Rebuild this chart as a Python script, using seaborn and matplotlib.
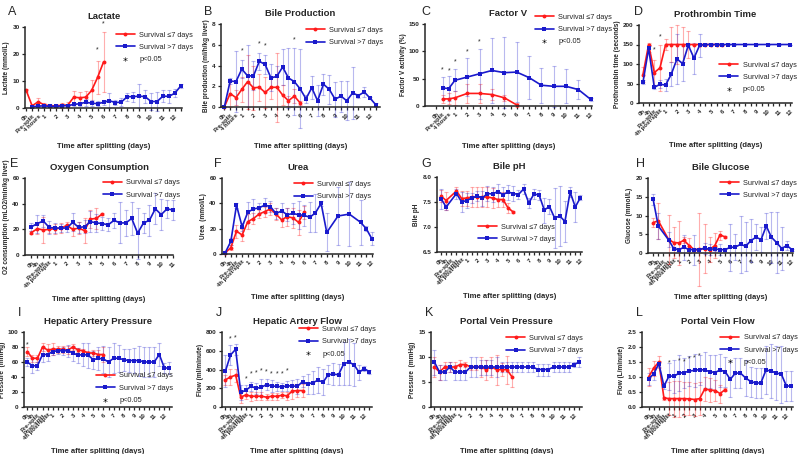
import matplotlib
matplotlib.use("Agg")
import matplotlib.pyplot as plt
from matplotlib.lines import Line2D
import seaborn as sns

sns.set_style("ticks")
plt.rcParams["font.family"] = ["Liberation Sans", "DejaVu Sans"]

RED = "#ff1a1a"
BLUE = "#1a1acc"

DAYS = ["1", "2", "3", "4", "5", "6", "7", "8", "9", "10", "11", "12"]
PRE3 = ["0h", "Pre-split", "4 hours"]
PRE4 = ["0h", "4h", "Pre-split", "4h post-split"]
PRE5 = ["0h", "4h", "Pre-split", "Post-split", "4h post-split"]

# A - Lactate
lac_red_x = list(range(14))
lac_red = [6.5, 0.8, 2.3, 1.2, 0.8, 0.8, 1.0, 1.1, 4.0, 3.8, 4.0, 6.5, 11.3, 17.0]
lac_red_err = [0.5, 0.5, 1.5, 0.8, 0.5, 0.5, 1.0, 1.0, 2.2, 2.3, 2.2, 4.0, 6.0, 11.0]
lac_blue_x = list(range(1, 27))
lac_blue = [0.4, 0.7, 0.8, 0.6, 0.6, 0.8, 0.9, 1.3, 1.6, 2.1, 1.8, 1.6, 2.1, 2.7, 2.0, 2.2,
            4.2, 4.2, 4.4, 4.2, 2.4, 2.4, 4.4, 4.3, 5.5, 8.2]
lac_blue_err = [0.3, 0.3, 0.3, 0.3, 0.3, 0.3, 0.3, 0.5, 0.8, 1.2, 1.0, 1.0, 1.0, 2.8, 0.8, 1.5,
                1.5, 1.8, 4.5, 2.5, 3.0, 3.5, 2.2, 2.5, 1.5, 0.7]
lac_star_x = [12, 13]
lac_star_y = [21.4, 31]

# B - Bile production
bile_red_x = list(range(14))
bile_red = [0, 1.3, 0.9, 1.7, 2.45, 1.85, 1.9, 1.4, 1.9, 1.9, 1.15, 0.6, 1.05, 0.4]
bile_red_err = [0, 1.3, 0.7, 1.2, 2.6, 2.1, 1.3, 1.5, 1.1, 3.3, 1.0, 0.5, 0.7, 0.2]
bile_blue_x = list(range(27))
bile_blue = [0, 2.5, 2.45, 3.65, 3.0, 3.0, 4.4, 4.1, 2.8, 2.95, 3.85, 2.8, 2.45, 1.75, 0.8, 1.85,
             0.6, 2.2, 1.7, 0.75, 1.05, 0.6, 1.35, 1.1, 1.45, 0.85, 0.2]
bile_blue_err = [0, 0.3, 2.9, 0.9, 3.0, 1.4, 0.8, 0.9, 1.3, 1.0, 1.7, 2.9, 3.2, 3.8, 0.4, 1.1,
                 1.5, 1.0, 1.4, 1.7, 1.5, 1.9, 2.5, 0.2, 0.5, 0.1, 0.2]
bile_star_x = [3, 6, 7, 12]
bile_star_y = [5.4, 6.1, 5.9, 6.5]

# C - Factor V
fv_red_x = [1, 2, 3, 5, 7, 9, 11, 13]
fv_red = [13, 13, 15, 23, 23, 21, 15, 2]
fv_red_err = [7, 10, 13, 18, 18, 10, 5, 3]
fv_blue_x = [1, 2, 3, 5, 7, 9, 11, 13, 15, 17, 19, 21, 23, 25]
fv_blue = [33, 32, 47, 53, 59, 65, 61, 62, 52, 38, 36, 36, 30, 12]
fv_blue_err = [20, 22, 20, 35, 46, 60, 65, 55, 40, 32, 37, 31, 17, 2]
fv_star_x = [1, 2, 3, 5, 7]
fv_star_y = [66, 65, 80, 99, 117]

# D - Prothrombin time
pt_red_x = list(range(15))
pt_red = [73, 150, 78, 90, 150, 150, 150, 150, 150, 150, 150, 150, 150, 150, 150]
pt_red_err = [20, 5, 32, 60, 15, 45, 50, 45, 35, 0, 0, 0, 0, 0, 0]
pt_blue_x = [0, 1, 2, 3, 4, 5, 6, 7, 8, 9, 10, 11, 12, 13, 14, 15, 16, 18, 20, 22, 24, 26]
pt_blue = [53, 140, 40, 48, 46, 74, 113, 101, 148, 115, 148, 150, 150, 150, 150, 150, 150,
           150, 150, 150, 150, 150]
pt_blue_err = [5, 10, 5, 10, 15, 30, 65, 45, 5, 40, 30, 0, 0, 0, 0, 0, 0, 0, 0, 0, 0, 0]
pt_star_x = [2, 3]
pt_star_y = [136, 170]

# E - Oxygen consumption
o2_red_x = list(range(13))
o2_red = [17.5, 20.5, 19.5, 20, 20.5, 21, 23, 20, 21, 19, 28, 28.5, 32]
o2_red_err = [1.5, 4, 10, 3, 4, 4, 3, 5, 5, 10, 7, 8, 1]
o2_blue_x = list(range(25))
o2_blue = [22, 24.5, 26.5, 21.5, 21, 21, 21, 25.5, 21.5, 22, 26, 25, 24.5, 23.5, 27, 25, 25,
           28.5, 17, 25, 27, 36, 31.5, 36, 35]
o2_blue_err = [3, 7, 5, 5, 4, 3, 3, 7, 4, 5, 8, 7, 5, 5, 6, 16, 10, 13, 20, 8, 12, 12, 12, 7, 8]

# F - Urea
urea_red_x = list(range(15))
urea_red = [1, 5, 18, 15, 25.5, 28, 31.5, 33.5, 35.5, 31.5, 27, 29.5, 28.5, 25, 33]
urea_red_err = [1, 2, 5, 5, 6, 4, 3, 4, 5, 5, 6, 7, 8, 10, 5]
urea_blue_x = [0, 1, 2, 3, 4, 5, 6, 7, 8, 9, 10, 11, 12, 13, 14, 15, 16, 17, 18, 20, 22, 24, 25, 26]
urea_blue = [1, 10, 38.5, 21.5, 33, 35.5, 36.5, 38.5, 37.5, 32, 34, 31, 32, 31, 30.5, 29, 32.5,
             40, 17, 30, 31.5, 25, 20, 12]
urea_blue_err = [1, 3, 2, 3, 8, 8, 4, 6, 4, 4, 6, 5, 8, 11, 8, 12, 15, 2, 15, 23, 25, 18, 2, 5]

# G - Bile pH
ph_red_x = [0, 1, 3, 4, 5, 6, 7, 8, 9, 10, 11, 12, 13, 14]
ph_red = [7.62, 7.53, 7.72, 7.57, 7.58, 7.6, 7.6, 7.6, 7.6, 7.58, 7.55, 7.55, 7.38, 7.3]
ph_red_err = [0.12, 0.18, 0.08, 0.15, 0.15, 0.2, 0.2, 0.2, 0.2, 0.2, 0.15, 0.15, 0.1, 0.02]
ph_blue_x = [0, 1, 3, 4, 5, 6, 7, 8, 9, 10, 11, 12, 13, 14, 15, 16, 17, 18, 19, 20, 21, 22, 23,
             24, 25, 26, 27]
ph_blue = [7.57, 7.4, 7.67, 7.5, 7.53, 7.58, 7.62, 7.58, 7.67, 7.66, 7.71, 7.65, 7.7, 7.67,
           7.65, 7.76, 7.48, 7.66, 7.64, 7.34, 7.41, 7.18, 7.22, 7.11, 7.7, 7.4, 7.59]
ph_blue_err = [0.2, 0.05, 0.1, 0.2, 0.15, 0.1, 0.1, 0.15, 0.15, 0.15, 0.15, 0.15, 0.15, 0.15,
               0.1, 0.1, 0.1, 0.1, 0.1, 0.25, 0.15, 0.6, 0.6, 0.4, 0.1, 0.3, 0.05]

# H - Bile glucose
glu_red_x = [0, 1, 3, 4, 5, 6, 7, 8, 9, 10, 11, 12, 13, 14]
glu_red = [8.1, 8.6, 3.6, 2.8, 2.7, 3.4, 2.0, 0.9, 1.0, 1.2, 0.9, 2.0, 4.8, 4.3]
glu_red_err = [1.2, 4.8, 6.6, 4.2, 5.8, 0.8, 2.0, 0.5, 9.8, 6.6, 3.4, 3.3, 1.2, 0.3]
glu_blue_x = [0, 1, 3, 4, 5, 6, 7, 8, 9, 10, 11, 12, 13, 14, 15, 16, 17, 18, 19, 20, 21, 22,
              23, 24, 25, 26, 27]
glu_blue = [14.3, 7.2, 3.5, 1.2, 0.9, 1.5, 0.9, 0.9, 0.9, 1.3, 1.0, 1.1, 0.9, 0.9, 1.5, 1.6,
            2.3, 1.8, 3.3, 4.2, 3.6, 7.2, 4.2, 2.8, 1.2, 2.0, 0.9]
glu_blue_err = [1.5, 3.5, 2, 0.5, 0.5, 3.3, 1, 4, 0.5, 1.5, 1.5, 0.5, 1.5, 0.5, 6.3, 3.5, 7.7,
                6.5, 5.8, 3.5, 3.3, 3.5, 6.8, 8.2, 5.8, 1.3, 0.3]

# I - Hepatic artery pressure
hap_red_x = list(range(16))
hap_red = [74, 65, 65, 80, 76, 77, 77, 77, 76, 80, 76, 75, 72, 72, 70, 70]
hap_red_err = [6, 5, 5, 5, 8, 8, 5, 5, 5, 4, 3, 3, 3, 4, 6, 10]
hap_blue_x = list(range(29))
hap_blue = [60, 55, 55, 70, 70, 74, 75, 75, 75, 72, 69, 70, 69, 63, 65, 64, 60, 65, 65, 63, 62,
            62, 62, 60, 60, 60, 70, 52, 52]
hap_blue_err = [5, 10, 5, 10, 8, 5, 4, 5, 8, 10, 10, 15, 17, 12, 15, 18, 20, 20, 18, 15, 15, 17,
                20, 20, 20, 20, 15, 7, 8]
hap_star_x = [0]
hap_star_y = [83]

# J - Hepatic artery flow
haf_red_x = list(range(16))
haf_red = [290, 320, 340, 105, 130, 115, 115, 115, 105, 115, 115, 125, 120, 170, 175, 175]
haf_red_err = [50, 90, 70, 60, 40, 50, 40, 40, 30, 35, 35, 30, 40, 80, 70, 70]
haf_blue_x = list(range(29))
haf_blue = [380, 555, 615, 155, 180, 220, 200, 210, 240, 225, 220, 215, 225, 225, 220, 270, 245,
            260, 285, 265, 345, 350, 345, 460, 480, 450, 370, 410, 375]
haf_blue_err = [170, 110, 60, 80, 60, 50, 60, 90, 60, 60, 50, 40, 50, 60, 80, 60, 110, 120, 140,
                140, 100, 120, 110, 230, 250, 230, 80, 30, 20]
haf_star_x = [1, 2, 4, 5, 6, 7, 8, 9, 10, 11, 12]
haf_star_y = [730, 740, 300, 355, 363, 384, 373, 348, 348, 348, 384]

# K - Portal vein pressure
pvp_red_x = list(range(16))
pvp_red = [8, 7, 8, 8, 8, 8.5, 8.5, 8, 8, 8, 7.5, 8, 7.5, 7.5, 7.5, 6]
pvp_red_err = [2, 1.5, 1, 1, 1, 1, 0.5, 0.5, 0.5, 2, 2, 2, 3, 1.3, 2.8, 2]
pvp_blue_x = list(range(29))
pvp_blue = [9, 7, 7, 8, 7, 7, 7, 8, 8, 8, 8, 8, 8, 8, 8, 8, 8, 8, 8, 8, 7.5, 7.5, 7.5, 8, 8, 8,
            8, 8.5, 9]
pvp_blue_err = [2.5, 1.5, 1.5, 1, 1.5, 1.5, 1.5, 2, 2, 1.5, 1.5, 1.5, 2, 1, 1, 1, 1, 1, 1, 1,
                1.2, 1.2, 1.2, 1, 1, 1, 1, 0.5, 1]

# L - Portal vein flow
pvf_red_x = list(range(16))
pvf_red = [1.0, 1.3, 1.5, 0.3, 0.28, 0.28, 0.28, 0.28, 0.27, 0.25, 0.28, 0.6, 0.57, 0.55, 0.45,
           0.58]
pvf_red_err = [0.3, 0.25, 0.2, 0.05, 0.55, 0.6, 0.6, 0.55, 0.55, 0.55, 0.55, 0.4, 0.4, 0.35,
               0.3, 0.05]
pvf_blue_x = list(range(29))
pvf_blue = [0.95, 1.1, 1.45, 0.7, 1.03, 1.03, 1.13, 1.15, 1.2, 1.22, 1.25, 1.23, 1.18, 1.15,
            1.23, 1.18, 0.92, 1.13, 1.13, 0.97, 0.85, 0.8, 0.8, 1.23, 1.2, 1.13, 1.1, 0.7, 0.7]
pvf_blue_err = [0.2, 0.2, 0.1, 0.1, 0.45, 0.55, 0.6, 0.5, 0.5, 0.55, 0.5, 0.6, 0.55, 0.6, 0.55,
                0.5, 0.6, 0.5, 0.5, 0.6, 0.5, 0.5, 0.5, 0.8, 0.9, 0.9, 0.95, 0.5, 0.5]
pvf_star_x = [4, 6, 7, 8, 9, 10]
pvf_star_y = [1.47, 1.55, 1.52, 1.6, 1.63, 1.69]

XLABEL = "Time after splitting (days)"

fig = plt.figure(figsize=(8, 4.54), dpi=100)


def rect(l, t, r, b):
    return [l / 800, 1 - b / 454, (r - l) / 800, (b - t) / 454]


def panel(box, letter, letter_xy, title, ylabel, ylim, yticks, pre, xlim,
          red, blue, stars=None, p_text=False, leg_loc="upper right", leg_anchor=(1.0, 1.0),
          xlab_y=-0.45):
    ax = fig.add_axes(rect(*box))
    rx, ry, re = red
    bx, by, be = blue
    ax.errorbar(rx, ry, yerr=re, fmt="none", ecolor=RED, alpha=0.35, elinewidth=0.8,
                capsize=1.5, capthick=0.8, clip_on=False)
    ax.errorbar(bx, by, yerr=be, fmt="none", ecolor=BLUE, alpha=0.3, elinewidth=0.8,
                capsize=1.5, capthick=0.8, clip_on=False)
    sns.lineplot(x=rx, y=ry, ax=ax, color=RED, marker="o", markersize=2.8, linewidth=1.2,
                 markeredgewidth=0, estimator=None, clip_on=False)
    sns.lineplot(x=bx, y=by, ax=ax, color=BLUE, marker="s", markersize=2.6, linewidth=1.2,
                 markeredgewidth=0, estimator=None, clip_on=False)
    if stars is not None:
        for sx, sy in zip(*stars):
            ax.text(sx, sy, "*", ha="center", va="center", fontsize=5)

    labels = list(pre)
    for d in DAYS:
        labels += [d, ""]
    n = int(xlim[1]) + 1
    labels = (labels + [""] * n)[:n]
    ax.set_xticks(range(n), labels, rotation=45, ha="right", rotation_mode="anchor",
                  fontsize=4.3, fontweight="bold")
    ax.set_xlim(*xlim)
    ax.set_ylim(*ylim)
    ax.set_yticks(yticks)
    plt.setp(ax.get_yticklabels(), fontsize=4.6, fontweight="bold")
    ax.tick_params(axis="both", length=2.5, width=0.9, pad=1.5)
    for s in ["left", "bottom"]:
        ax.spines[s].set_linewidth(1.1)
    sns.despine(ax=ax)

    ax.set_title(title, fontsize=6.8, fontweight="bold", pad=6)
    ax.set_ylabel(ylabel, fontsize=4.7, fontweight="bold", labelpad=1.5)
    ax.set_xlabel(XLABEL, fontsize=5.5, fontweight="bold")
    ax.xaxis.set_label_coords(0.5, xlab_y)
    fig.text(letter_xy[0] / 800, 1 - letter_xy[1] / 454, letter, fontsize=9,
             ha="left", va="center")

    handles = [Line2D([], [], color=RED, marker="o", ms=2.8, lw=1.2, mew=0),
               Line2D([], [], color=BLUE, marker="s", ms=2.6, lw=1.2, mew=0)]
    names = ["Survival \u22647 days", "Survival >7 days"]
    if p_text:
        handles.append(Line2D([], [], color="black", marker="$*$", ls="none", ms=3.2, mew=0))
        names.append("p<0.05")
    ax.legend(handles, names, loc=leg_loc, bbox_to_anchor=leg_anchor, frameon=False,
              fontsize=5.3, handlelength=2.6, handletextpad=0.6, labelspacing=0.7,
              borderaxespad=0.2)
    return ax


panel((25, 27, 182, 108), "A", (8, 12), "Lactate", "Lactate (mmol/L)", (0, 30),
      [0, 10, 20, 30], PRE3, (-0.2, 26.2),
      (lac_red_x, lac_red, lac_red_err), (lac_blue_x, lac_blue, lac_blue_err),
      stars=(lac_star_x, lac_star_y), p_text=True, leg_anchor=(1.1, 1.0), xlab_y=-0.43)

panel((221, 24, 380, 107), "B", (204, 12), "Bile Production", "Bile production (ml/h/kg liver)",
      (0, 8), [0, 2, 4, 6, 8], PRE3, (-0.57, 26.7),
      (bile_red_x, bile_red, bile_red_err), (bile_blue_x, bile_blue, bile_blue_err),
      stars=(bile_star_x, bile_star_y), leg_anchor=(1.05, 1.02), xlab_y=-0.43)

panel((425, 24, 592, 106), "C", (421, 12), "Factor V", "Factor V activity (%)",
      (0, 150), [0, 50, 100, 150], PRE3, (-1.85, 25.2),
      (fv_red_x, fv_red, fv_red_err), (fv_blue_x, fv_blue, fv_blue_err),
      stars=(fv_star_x, fv_star_y), p_text=True, leg_loc="upper left",
      leg_anchor=(0.63, 1.18), xlab_y=-0.45)

panel((639, 25, 792, 103), "D", (634, 12), "Prothrombin Time", "Prothrombin time (seconds)",
      (0, 200), [0, 50, 100, 150, 200], PRE4, (-0.7, 26.3),
      (pt_red_x, pt_red, pt_red_err), (pt_blue_x, pt_blue, pt_blue_err),
      stars=(pt_star_x, pt_star_y), p_text=True, leg_loc="center right",
      leg_anchor=(1.06, 0.33), xlab_y=-0.5)

panel((25, 178, 173, 255), "E", (10, 164), "Oxygen Consumption",
      "O2 consumption (mLO2/min/kg liver)", (0, 60), [0, 20, 40, 60], PRE4, (-1.1, 24.0),
      (o2_red_x, o2_red, o2_red_err), (o2_blue_x, o2_blue, o2_blue_err),
      leg_anchor=(1.08, 1.04), xlab_y=-0.53)

panel((222, 178, 373, 254), "F", (214, 164), "Urea", "Urea  (mmol/L)", (0, 60),
      [0, 20, 40, 60], PRE4, (-0.57, 26.2),
      (urea_red_x, urea_red, urea_red_err), (urea_blue_x, urea_blue, urea_blue_err),
      leg_anchor=(1.02, 1.02), xlab_y=-0.53)

panel((437, 177, 582, 252), "G", (421, 164), "Bile pH", "Bile pH", (6.5, 8.0),
      [6.5, 7.0, 7.5, 8.0], PRE5, (-0.77, 27.3),
      (ph_red_x, ph_red, ph_red_err), (ph_blue_x, ph_blue, ph_blue_err),
      leg_loc="center left", leg_anchor=(0.25, 0.25), xlab_y=-0.55)

panel((648, 178, 793, 253), "H", (636, 164), "Bile Glucose", "Glucose (mmol/L)", (0, 20),
      [0, 5, 10, 15, 20], PRE5, (-1.0, 27.2),
      (glu_red_x, glu_red, glu_red_err), (glu_blue_x, glu_blue, glu_blue_err),
      leg_anchor=(1.06, 1.04), xlab_y=-0.55)

panel((24, 332, 172, 407), "I", (18, 313), "Hepatic Artery Pressure", "Pressure  (mmHg)",
      (0, 100), [0, 20, 40, 60, 80, 100], PRE5, (-0.65, 28.5),
      (hap_red_x, hap_red, hap_red_err), (hap_blue_x, hap_blue, hap_blue_err),
      stars=(hap_star_x, hap_star_y), p_text=True, leg_loc="lower right",
      leg_anchor=(1.04, -0.02), xlab_y=-0.55)

panel((222, 332, 372, 407), "J", (216, 313), "Hepatic Artery Flow", "Flow (ml/minute)",
      (0, 800), [0, 200, 400, 600, 800], PRE5, (-0.65, 28.5),
      (haf_red_x, haf_red, haf_red_err), (haf_blue_x, haf_blue, haf_blue_err),
      stars=(haf_star_x, haf_star_y), p_text=True, leg_anchor=(1.06, 1.14), xlab_y=-0.55)

panel((431, 332, 582, 407), "K", (425, 313), "Portal Vein Pressure", "Pressure  (mmHg)",
      (0, 15), [0, 5, 10, 15], PRE5, (-0.65, 28.5),
      (pvp_red_x, pvp_red, pvp_red_err), (pvp_blue_x, pvp_blue, pvp_blue_err),
      leg_anchor=(1.04, 1.02), xlab_y=-0.55)

panel((642, 332, 793, 407), "L", (636, 313), "Portal Vein Flow", "Flow (L/minute)",
      (0, 2.5), [0.0, 0.5, 1.0, 1.5, 2.0, 2.5], PRE5, (-1.3, 28.3),
      (pvf_red_x, pvf_red, pvf_red_err), (pvf_blue_x, pvf_blue, pvf_blue_err),
      stars=(pvf_star_x, pvf_star_y), p_text=True, leg_anchor=(1.06, 1.03), xlab_y=-0.55)

fig.savefig("out.png", dpi=100)
